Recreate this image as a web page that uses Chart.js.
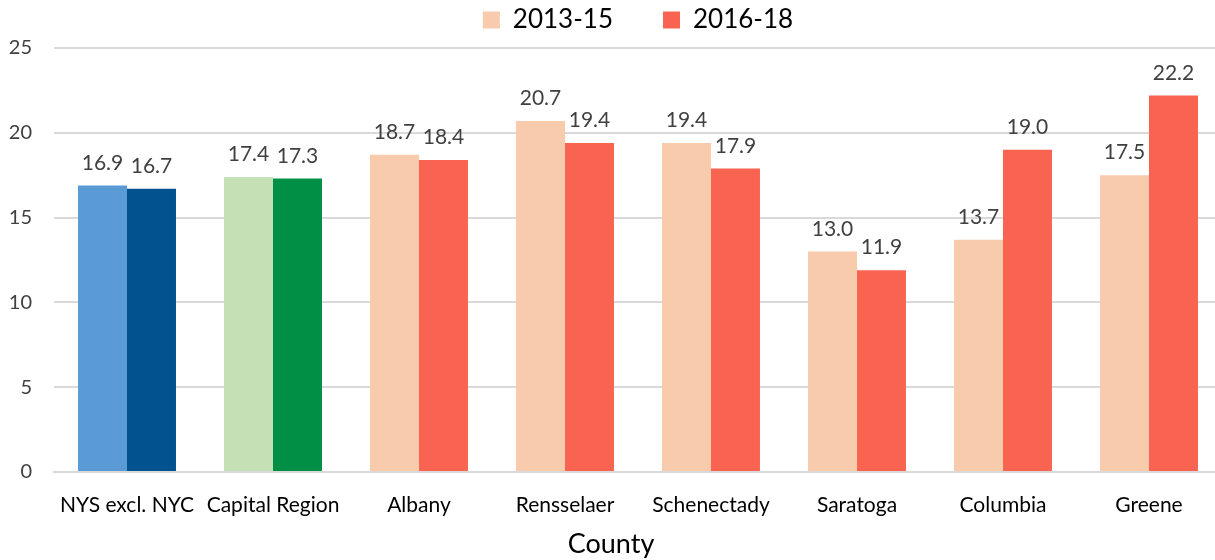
<!DOCTYPE html>
<html>
<head>
<meta charset="utf-8">
<script src="https://cdn.jsdelivr.net/npm/chart.js@4.4.0/dist/chart.umd.min.js"></script>
<style>
  html, body { margin: 0; padding: 0; background: #fff; overflow: hidden; }
  /* plot area runs a little past the right edge of the window, as in the original */
  #wrap { width: 1230px; height: 560px; }
</style>
</head>
<body>
<div id="wrap"><canvas id="chart"></canvas></div>
<script>
// Chart data
const counties = ['NYS excl. NYC', 'Capital Region', 'Albany', 'Rensselaer', 'Schenectady', 'Saratoga', 'Columbia', 'Greene'];
const period1 = [16.9, 17.4, 18.7, 20.7, 19.4, 13.0, 13.7, 17.5];
const period2 = [16.7, 17.3, 18.4, 19.4, 17.9, 11.9, 19.0, 22.2];
const seriesNames = ['2013-15', '2016-18'];
const yTicks = [0, 5, 10, 15, 20, 25];

// colours: first two groups get their own shades
const light = ['#5B9BD5', '#C5E0B4', '#F8CBAD', '#F8CBAD', '#F8CBAD', '#F8CBAD', '#F8CBAD', '#F8CBAD'];
const dark = ['#02528F', '#008F45', '#F96452', '#F96452', '#F96452', '#F96452', '#F96452', '#F96452'];

const FONT = 'Lato, "Open Sans", sans-serif';
const LEGEND_GAP = 50;

// value labels above bars
const valueLabels = {
  id: 'valueLabels',
  afterDatasetsDraw(chart) {
    const ctx = chart.ctx;
    ctx.save();
    ctx.font = '21px ' + FONT;
    ctx.fillStyle = '#404040';
    ctx.textAlign = 'center';
    ctx.textBaseline = 'bottom';
    chart.data.datasets.forEach((ds, i) => {
      chart.getDatasetMeta(i).data.forEach((bar, j) => {
        ctx.fillText(ds.data[j].toFixed(1), bar.x, bar.y - 12);
      });
    });
    ctx.restore();
  }
};

// center the legend over the plot area and pull it up to the top edge
const legendPlace = {
  id: 'legendPlace',
  beforeDraw(chart) {
    const lg = chart.legend;
    lg.left = chart.chartArea.left;
    lg.right = chart.chartArea.right;
    lg.top = 7 - LEGEND_GAP;
  }
};

new Chart(document.getElementById('chart'), {
  type: 'bar',
  data: {
    labels: counties,
    datasets: [
      { label: seriesNames[0], data: period1, backgroundColor: light, legendColor: '#F8CBAD' },
      { label: seriesNames[1], data: period2, backgroundColor: dark, legendColor: '#F96452' }
    ]
  },
  options: {
    responsive: true,
    maintainAspectRatio: false,
    animation: false,
    layout: { padding: { left: 0, right: 8, top: 0, bottom: 0 } },
    datasets: { bar: { categoryPercentage: 0.671, barPercentage: 1.0 } },
    plugins: {
      tooltip: { enabled: false },
      title: {
        display: true,
        position: 'bottom',
        text: 'County',
        color: '#000',
        font: { family: FONT, size: 27, weight: 'normal' },
        padding: { top: 0, bottom: 0 }
      },
      legend: {
        position: 'top',
        maxHeight: 48,
        labels: {
          font: { family: FONT, size: 26 },
          color: '#000',
          boxWidth: 17,
          boxHeight: 17,
          padding: LEGEND_GAP,
          generateLabels(chart) {
            return chart.data.datasets.map((ds, i) => ({
              text: ds.label,
              fillStyle: ds.legendColor,
              strokeStyle: ds.legendColor,
              lineWidth: 0,
              datasetIndex: i,
              fontColor: '#000'
            }));
          }
        }
      }
    },
    scales: {
      x: {
        grid: { display: false },
        border: { color: '#D9D9D9', width: 2 },
        ticks: { font: { family: FONT, size: 21 }, color: '#000', padding: 13, maxRotation: 0, autoSkip: false },
        afterFit(axis) { axis.height = 55.6; }
      },
      y: {
        min: 0,
        max: 25,
        afterBuildTicks(axis) { axis.ticks = yTicks.map(v => ({ value: v })); },
        afterFit(axis) { axis.width = 54; },
        grid: { color: '#D9D9D9', lineWidth: 2, drawTicks: false },
        border: { display: false },
        ticks: { font: { family: FONT, size: 20 }, color: '#404040', padding: 22 }
      }
    }
  },
  plugins: [valueLabels, legendPlace]
});
</script>
</body>
</html>
